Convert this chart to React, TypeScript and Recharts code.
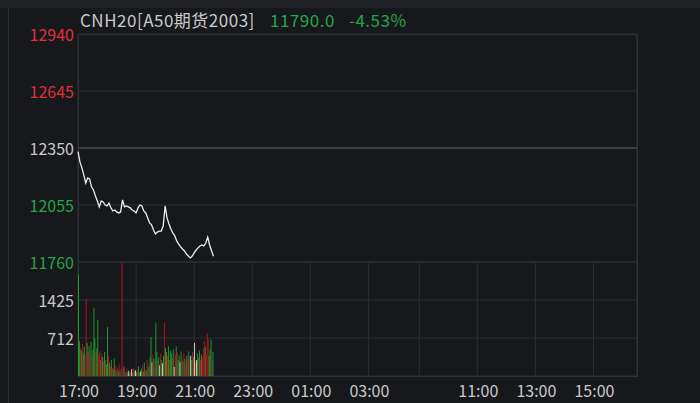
import {
  LineChart,
  Line,
  BarChart,
  Bar,
  Cell,
  XAxis,
  YAxis,
  CartesianGrid,
  ReferenceLine,
} from "recharts";

const W = 700;
const H = 403;
const FONT = '"Noto Sans CJK SC", "Noto Sans", sans-serif';

const BG = "#16181c";
const GRID = "#2b2e33";
const RED = "#e0313b";
const GREEN = "#23a548";
const GREY = "#c9c9c9";
const BAR_RED = "#c2151d";
const BAR_GREEN = "#20a630";
const BAR_WHITE = "#e4e4e4";

const TITLE = "CNH20[A50期货2003]";
const LAST_PRICE = "11790.0";
const CHANGE_PCT = "-4.53%";

const PREV_CLOSE = 12350;
const SESSION_MINUTES = 1155; // 17:00-04:45 + 09:00-16:30

const priceTicks = [11760, 12055, 12350, 12645, 12940];
const volumeTicks = [712, 1425];
const timeTicks = [0, 120, 240, 360, 480, 600, 705, 825, 945, 1065];
const timeLabels = ["17:00", "19:00", "21:00", "23:00", "01:00", "03:00", "", "11:00", "13:00", "15:00"];

// one price every 4 minutes from 17:00
const prices = [
  12331, 12278, 12247, 12210, 12169, 12195, 12190, 12148, 12133, 12102,
  12076, 12045, 12076, 12071, 12055, 12050, 12065, 12040, 12024, 12029,
  12019, 12014, 12019, 12081, 12045, 12050, 12045, 12040, 12029, 12024,
  12014, 12040, 12055, 12050, 12024, 12014, 11988, 11962, 11952, 11926,
  11905, 11915, 11920, 11920, 11946, 12050, 11988, 11957, 11931, 11910,
  11895, 11869, 11853, 11838, 11827, 11817, 11801, 11791, 11781, 11791,
  11807, 11822, 11833, 11843, 11848, 11843, 11858, 11889, 11848, 11817,
  11790,
];

// volume every 2 minutes from 17:00
const volumes = [
  1900, 650, 520, 480, 600, 420, 550, 380,
  1450, 620, 480, 560, 400, 640, 350, 500,
  1270, 700, 450, 520, 1050, 380, 460, 300,
  420, 350, 280, 450, 300, 220, 920, 380,
  250, 180, 300, 150, 120, 330, 200, 90,
  160, 110, 220, 80, 140,
  2130,
  120, 180, 90, 60, 140, 70, 100, 50, 80, 130, 60, 150, 90, 110,
  70, 120, 180, 60, 90, 140, 200, 80, 250, 120, 100, 300, 180, 220, 350,
  730, 260, 400, 320, 180, 1000, 450, 280, 350, 200, 420, 300, 240, 380,
  1000, 520, 450, 380, 560, 300, 480, 420, 350, 500, 170, 400,
  560, 440, 300, 380, 260, 460, 350, 280, 420, 320, 250, 380, 300, 460, 350,
  380, 300, 450, 350, 620, 260, 300, 420, 350, 480, 300, 400, 350, 520,
  650, 550, 420, 800, 700, 380, 500, 680, 300, 450,
];

// r = up, g = down, w = flat
const volumeDirs = (
  "ggrgrggr" + "rgrgrgrg" + "ggrggrrg" + "rgrgrggr" + "grgrggrg" + "rgrgr" + "r" +
  "rgrgrgwgrwgrgw" + "grgrwgrggrgrgrg" + "gwrgrggrgwrgwg" + "rggrgrggrgwr" +
  "grggwgrgrgrgrgr" + "wgrgwrwgrgrgrr" + "rgrrrgggrg"
).split("");

const priceData = prices.map((p, k) => ({ t: k * 4, price: p }));
const volumeData = volumes.map((v, i) => ({ t: i * 2 + 1, vol: v, dir: volumeDirs[i] }));

const priceColor = (v: number) => (v > PREV_CLOSE ? RED : v < PREV_CLOSE ? GREEN : GREY);
const barColor = (d: string) => (d === "r" ? BAR_RED : d === "g" ? BAR_GREEN : BAR_WHITE);

function LeftPriceTick({ y, payload }: any) {
  return (
    <text x={74} y={y} textAnchor="end" dominantBaseline="central" fill={priceColor(payload.value)} fontSize={16} fontFamily={FONT}>
      {payload.value}
    </text>
  );
}

function RightPriceTick({ y, payload }: any) {
  const pct = (Math.abs(payload.value - PREV_CLOSE) / PREV_CLOSE) * 100;
  return (
    <text x={641} y={y} textAnchor="start" dominantBaseline="central" fill={priceColor(payload.value)} fontSize={16} fontFamily={FONT}>
      {pct.toFixed(2)}%
    </text>
  );
}

function LeftVolTick({ y, payload }: any) {
  return (
    <text x={74} y={y} textAnchor="end" dominantBaseline="central" fill={GREY} fontSize={16} fontFamily={FONT}>
      {payload.value}
    </text>
  );
}

function RightVolTick({ y, payload }: any) {
  return (
    <text x={641} y={y} textAnchor="start" dominantBaseline="central" fill={GREY} fontSize={16} fontFamily={FONT}>
      {payload.value}
    </text>
  );
}

function TimeTick({ x, payload }: any) {
  const label = timeLabels[timeTicks.indexOf(payload.value)] ?? "";
  return (
    <text x={x + 1} y={390} textAnchor="middle" dominantBaseline="central" fill={GREY} fontSize={16} fontFamily={FONT}>
      {label}
    </text>
  );
}

export default function App() {
  return (
    <div style={{ position: "absolute", left: 0, top: 0, width: W, height: H, background: BG, overflow: "hidden", fontFamily: FONT }}>
      <div style={{ position: "absolute", left: 0, top: 0, width: W, height: 8, background: "#222428" }} />
      <div style={{ position: "absolute", left: 8, top: 8, width: 1, height: H - 8, background: "#2a2d32" }} />
      <div style={{ position: "absolute", left: 78, top: 34, width: 560, height: 343, border: "1px solid #34373d", boxSizing: "border-box" }} />

      <div style={{ position: "absolute", left: 0, top: 0 }}>
        <LineChart width={W} height={H} data={priceData} margin={{ top: 34, right: 0, bottom: 141, left: 0 }}>
          <CartesianGrid stroke={GRID} strokeWidth={1} />
          <XAxis type="number" dataKey="t" domain={[0, SESSION_MINUTES]} ticks={timeTicks} height={0} tick={false} axisLine={false} tickLine={false} />
          <YAxis domain={[11760, 12940]} ticks={priceTicks} width={78} axisLine={false} tickLine={false} tick={<LeftPriceTick />} />
          <YAxis yAxisId="right" orientation="right" domain={[11760, 12940]} ticks={priceTicks} width={63} axisLine={false} tickLine={false} tick={<RightPriceTick />} />
          <ReferenceLine y={PREV_CLOSE} stroke="#55585e" strokeWidth={1} />
          <Line type="linear" dataKey="price" stroke="#ededed" strokeWidth={1.3} dot={false} isAnimationActive={false} />
        </LineChart>
      </div>

      <div style={{ position: "absolute", left: 0, top: 0 }}>
        <BarChart width={W} height={H} data={volumeData} margin={{ top: 262, right: 0, bottom: 0, left: 0 }} barSize={2}>
          <CartesianGrid stroke={GRID} strokeWidth={1} />
          <XAxis type="number" dataKey="t" domain={[0, SESSION_MINUTES]} ticks={timeTicks} interval={0} height={27} axisLine={false} tickLine={false} tick={<TimeTick />} />
          <YAxis domain={[0, 2137.5]} ticks={volumeTicks} width={78} axisLine={false} tickLine={false} tick={<LeftVolTick />} />
          <YAxis yAxisId="right" orientation="right" domain={[0, 2137.5]} ticks={volumeTicks} width={63} axisLine={false} tickLine={false} tick={<RightVolTick />} />
          <Bar dataKey="vol" isAnimationActive={false}>
            {volumeData.map((d, i) => (
              <Cell key={i} fill={barColor(d.dir)} />
            ))}
          </Bar>
        </BarChart>
      </div>

      <div style={{ position: "absolute", left: 80, top: 8, fontSize: 17, lineHeight: "24px", letterSpacing: 0.5, whiteSpace: "nowrap", color: GREY }}>
        {TITLE}
      </div>
      <div style={{ position: "absolute", left: 270, top: 8, fontSize: 17, lineHeight: "24px", letterSpacing: 0.5, whiteSpace: "nowrap", color: GREEN }}>
        {LAST_PRICE}
      </div>
      <div style={{ position: "absolute", left: 349, top: 8, fontSize: 17, lineHeight: "24px", letterSpacing: 0.5, whiteSpace: "nowrap", color: GREEN }}>
        {CHANGE_PCT}
      </div>
    </div>
  );
}
